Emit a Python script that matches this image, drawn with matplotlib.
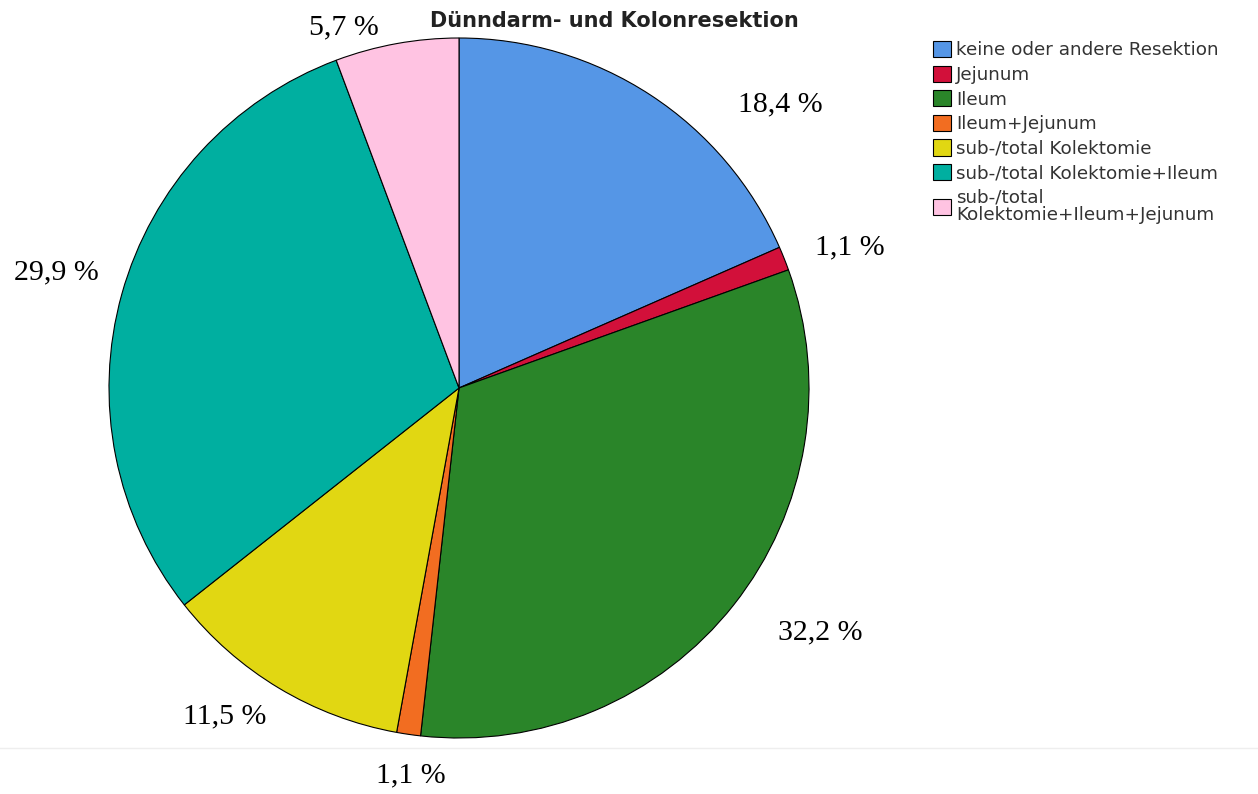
import matplotlib.pyplot as plt
from matplotlib.lines import Line2D

# data
categories = ["keine oder andere Resektion", "Jejunum", "Ileum", "Ileum+Jejunum",
              "sub-/total Kolektomie", "sub-/total Kolektomie+Ileum",
              "sub-/total\nKolektomie+Ileum+Jejunum"]
percent = [18.4, 1.1, 32.2, 1.1, 11.5, 29.9, 5.7]
pct_labels = ["18,4 %", "1,1 %", "32,2 %", "1,1 %", "11,5 %", "29,9 %", "5,7 %"]
colors = ["#5596E6", "#D2103A", "#2A8529", "#F26D21", "#E1D712", "#00AFA0", "#FFC3E2"]

# label placement (in pie radius units, relative to centre)
label_xy = [(0.917, 0.809), (1.117, 0.403), (1.031, -0.697), (-0.137, -1.106),
            (-0.669, -0.937), (-1.149, 0.331), (-0.329, 1.031)]

W, H = 1258, 794
cx, cy, r = 459, 388, 350
fig = plt.figure(figsize=(W / 100, H / 100), dpi=100)
ax = fig.add_axes([(cx - r) / W, (H - cy - r) / H, 2 * r / W, 2 * r / H])

wedges, _ = ax.pie(percent, colors=colors, startangle=90, counterclock=False,
                   radius=1, wedgeprops=dict(edgecolor="black", linewidth=0.8))
ax.set_xlim(-1, 1)
ax.set_ylim(-1, 1)
ax.axis("off")

for (x, y), txt in zip(label_xy, pct_labels):
    ax.text(x, y, txt, ha="center", va="center", fontsize=21.5,
            family="Liberation Serif", color="black")

# faint separator line near the bottom
fig.add_artist(Line2D([0, 1], [1 - 748 / H, 1 - 748 / H], color="#eeeeee", lw=1))

fig.text(614 / W, 1 - 21 / H, "Dünndarm- und Kolonresektion", ha="center", va="center",
         fontsize=15, fontweight="bold", color="#222222")

leg = fig.legend(wedges, categories, loc="upper left",
                 bbox_to_anchor=(933 / W, 1 - 41 / H), frameon=False,
                 fontsize=13.2, handlelength=1.0, handleheight=1.0,
                 handletextpad=0.25, labelspacing=0.33, borderpad=0, borderaxespad=0)
for t in leg.get_texts():
    t.set_color("#333333")
    t.set_linespacing(1.0)

fig.savefig("out.png", dpi=100)
